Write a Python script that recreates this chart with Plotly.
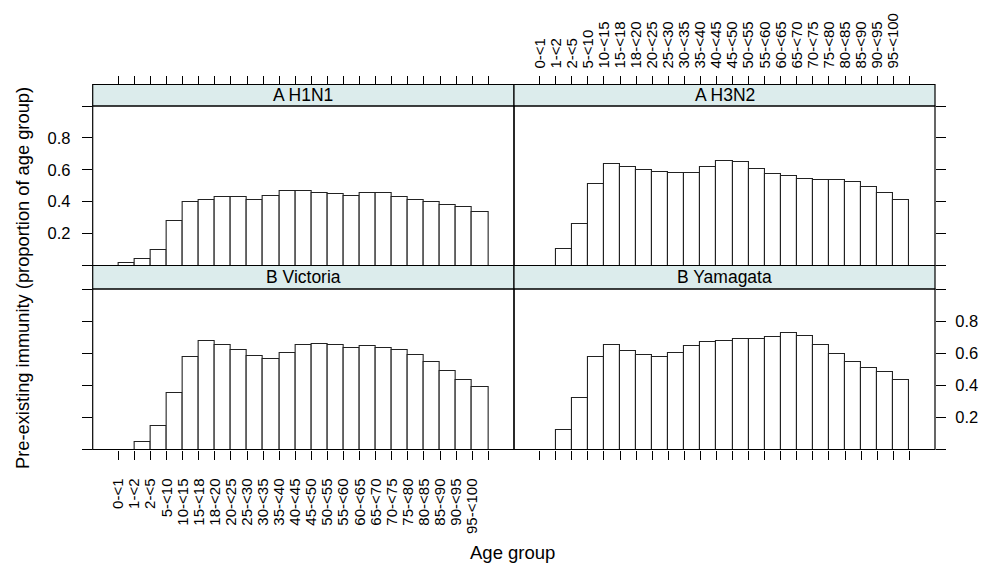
import plotly.graph_objects as go

age_groups = ["0-<1", "1-<2", "2-<5", "5-<10", "10-<15", "15-<18", "18-<20", "20-<25",
              "25-<30", "30-<35", "35-<40", "40-<45", "45-<50", "50-<55", "55-<60",
              "60-<65", "65-<70", "70-<75", "75-<80", "80-<85", "85-<90", "90-<95", "95-<100"]

h1n1 = [0.015, 0.04, 0.098, 0.279, 0.398, 0.408, 0.429, 0.429, 0.408, 0.437, 0.466, 0.466,
        0.456, 0.448, 0.437, 0.456, 0.456, 0.429, 0.41, 0.40, 0.381, 0.364, 0.333]
h3n2 = [0.0, 0.106, 0.258, 0.514, 0.635, 0.616, 0.60, 0.589, 0.579, 0.579, 0.616, 0.658,
        0.646, 0.608, 0.571, 0.56, 0.544, 0.533, 0.533, 0.523, 0.494, 0.456, 0.41]
victoria = [0.0, 0.049, 0.146, 0.352, 0.576, 0.677, 0.65, 0.622, 0.585, 0.564, 0.601, 0.65,
            0.659, 0.65, 0.634, 0.642, 0.634, 0.62, 0.587, 0.548, 0.492, 0.434, 0.387]
yamagata = [0.0, 0.12, 0.323, 0.576, 0.65, 0.613, 0.587, 0.574, 0.603, 0.642, 0.669, 0.679,
            0.688, 0.688, 0.698, 0.725, 0.706, 0.65, 0.593, 0.548, 0.51, 0.481, 0.436]

panel_names = ["A H1N1", "A H3N2", "B Victoria", "B Yamagata"]
panel_values = [h1n1, h3n2, victoria, yamagata]

y_ticks = [0, 0.2, 0.4, 0.6, 0.8, 1.0]
y_ticktext = ["", "0.2", "0.4", "0.6", "0.8", ""]

W, H = 981, 573
xdom = [[92.7 / W, 514 / W], [514 / W, 935 / W]]
top_plot = [(H - 265.5) / H, (H - 106) / H]
top_strip = [(H - 106) / H, (H - 84.5) / H]
bot_plot = [(H - 449.5) / H, (H - 289) / H]
bot_strip = [(H - 289) / H, (H - 265.5) / H]

FONT = "Liberation Sans, Arial, sans-serif"
STRIP_FILL = "#DCECEC"

fig = go.Figure()

xs = [i + 0.5 for i in range(len(age_groups))]
for k, vals in enumerate(panel_values):
    fig.add_trace(go.Bar(
        x=xs, y=vals, width=1.0,
        marker=dict(color="white", line=dict(color="#222222", width=1.1)),
        xaxis="x" if k == 0 else f"x{k+1}",
        yaxis="y" if k == 0 else f"y{k+1}",
        showlegend=False, hoverinfo="skip",
    ))

xtickvals = list(range(len(age_groups) + 1))
xticktext = age_groups + [""]

common_x = dict(range=[-1.6, 24.6], tickvals=xtickvals, ticktext=xticktext,
                showgrid=False, zeroline=False, showline=False, automargin=False,
                ticks="outside", ticklen=9, tickwidth=1, tickcolor="black",
                tickangle=-90, tickfont=dict(family=FONT, size=15, color="black"))
common_y = dict(range=[0, 1.0], tickvals=y_ticks, ticktext=y_ticktext,
                showgrid=False, zeroline=False, showline=False, automargin=False,
                ticks="outside", ticklen=10, tickwidth=1, tickcolor="black",
                tickfont=dict(family=FONT, size=16.5, color="black"))

layout = dict(
    width=W, height=H,
    margin=dict(l=0, r=0, t=0, b=0, autoexpand=False),
    paper_bgcolor="white", plot_bgcolor="white",
    bargap=0, showlegend=False,
)
# top-left
layout["xaxis"] = dict(common_x, domain=xdom[0], anchor="free", position=top_strip[1],
                       side="top", showticklabels=False)
layout["yaxis"] = dict(common_y, domain=top_plot, anchor="x", side="left",
                       showticklabels=True, ticklabelstandoff=8)
# top-right
layout["xaxis2"] = dict(common_x, domain=xdom[1], anchor="free", position=top_strip[1],
                        side="top", showticklabels=True, ticklabelstandoff=4)
layout["yaxis2"] = dict(common_y, domain=top_plot, anchor="x2", side="right",
                        showticklabels=False)
# bottom-left
layout["xaxis3"] = dict(common_x, domain=xdom[0], anchor="y3", side="bottom",
                        showticklabels=True, ticklabelstandoff=13)
layout["yaxis3"] = dict(common_y, domain=bot_plot, anchor="x3", side="left",
                        showticklabels=False)
# bottom-right
layout["xaxis4"] = dict(common_x, domain=xdom[1], anchor="y4", side="bottom",
                        showticklabels=False)
layout["yaxis4"] = dict(common_y, domain=bot_plot, anchor="x4", side="right",
                        showticklabels=True, ticklabelstandoff=6)

shapes = []
annotations = []
for k, name in enumerate(panel_names):
    xd = xdom[k % 2]
    pd_ = top_plot if k < 2 else bot_plot
    sd = top_strip if k < 2 else bot_strip
    shapes.append(dict(type="rect", xref="paper", yref="paper", x0=xd[0], x1=xd[1],
                       y0=sd[0], y1=sd[1], fillcolor=STRIP_FILL,
                       line=dict(color="black", width=1.2), layer="below"))
    shapes.append(dict(type="rect", xref="paper", yref="paper", x0=xd[0], x1=xd[1],
                       y0=pd_[0], y1=pd_[1], line=dict(color="black", width=1.2),
                       fillcolor="rgba(0,0,0,0)", layer="above"))
    annotations.append(dict(text=name, xref="paper", yref="paper",
                            x=(xd[0] + xd[1]) / 2, y=(sd[0] + sd[1]) / 2,
                            xanchor="center", yanchor="middle", showarrow=False,
                            font=dict(family=FONT, size=17.5, color="black")))

annotations.append(dict(text="Age group", xref="paper", yref="paper",
                        x=512 / W, y=(H - 552) / H, xanchor="center", yanchor="middle",
                        showarrow=False, font=dict(family=FONT, size=18.5, color="black")))
annotations.append(dict(text="Pre-existing immunity (proportion of age group)",
                        xref="paper", yref="paper", x=22 / W, y=(H - 278) / H,
                        xanchor="center", yanchor="middle", textangle=-90,
                        showarrow=False, font=dict(family=FONT, size=18.3, color="black")))

layout["shapes"] = shapes
layout["annotations"] = annotations
fig.update_layout(**layout)

fig.write_html("out.html", config={"displayModeBar": False},
               post_script="document.body.style.margin='0';document.body.style.padding='0';")
